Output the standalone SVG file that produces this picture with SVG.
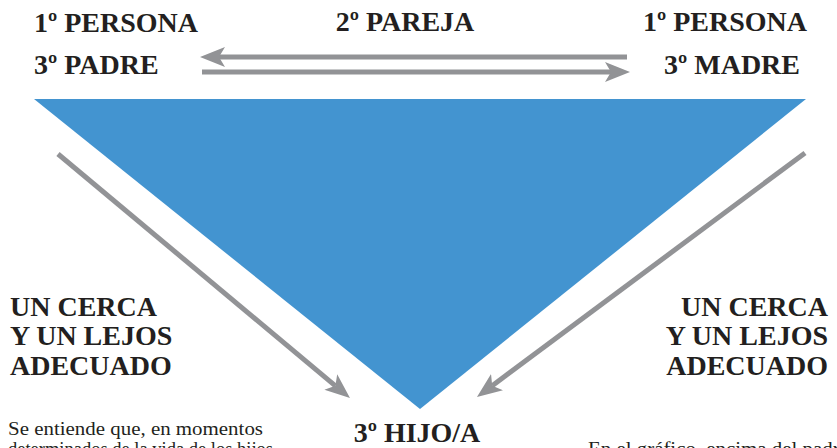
<svg xmlns="http://www.w3.org/2000/svg" width="837" height="448" viewBox="0 0 837 448">
<style>
.t{font-family:"Liberation Serif","Times New Roman",serif;font-weight:bold;font-size:28px;fill:#231F20}
.b{font-family:"Liberation Serif","Times New Roman",serif;font-size:18px;fill:#231F20}
.c{stroke:#929396;stroke-width:5;fill:none;marker-end:url(#ah)}
</style>
<defs>
<marker id="ah" markerUnits="userSpaceOnUse" markerWidth="26" markerHeight="24" viewBox="0 -12 26 24" refX="6" refY="0" orient="auto">
<path d="M25,0 L0,-10 L6,0 L0,10 Z" fill="#929396"/>
</marker>
</defs>
<g id="triangle">
<polygon points="34,99 806,99 420,409" fill="#4394D0"/>
</g>
<g id="connectors">
<line class="c" x1="627" y1="57" x2="219" y2="57"/>
<line class="c" x1="202" y1="72" x2="611" y2="72"/>
<line class="c" x1="58" y1="154" x2="335.4" y2="385.8"/>
<line class="c" x1="805" y1="153" x2="492.2" y2="385.7"/>
</g>
<g id="padre">
<text class="t" x="34" y="32">1º PERSONA</text>
<text class="t" x="34" y="74">3º PADRE</text>
</g>
<g id="pareja">
<text class="t" x="405" y="31" text-anchor="middle">2º PAREJA</text>
</g>
<g id="madre">
<text class="t" x="807" y="31" text-anchor="end">1º PERSONA</text>
<text class="t" x="800" y="74" text-anchor="end">3º MADRE</text>
</g>
<g id="cerca-left">
<text class="t" x="10" y="316">UN CERCA</text>
<text class="t" x="10" y="345">Y UN LEJOS</text>
<text class="t" x="10" y="375">ADECUADO</text>
</g>
<g id="cerca-right">
<text class="t" x="828" y="316" text-anchor="end">UN CERCA</text>
<text class="t" x="828" y="345" text-anchor="end">Y UN LEJOS</text>
<text class="t" x="828" y="375" text-anchor="end">ADECUADO</text>
</g>
<g id="hijo">
<text class="t" x="417" y="442" text-anchor="middle">3º HIJO/A</text>
</g>
<g id="notes">
<text class="b" x="8" y="435" textLength="255" lengthAdjust="spacingAndGlyphs">Se entiende que, en momentos</text>
<text class="b" x="8" y="455" textLength="265" lengthAdjust="spacingAndGlyphs">determinados de la vida de los hijos</text>
<text class="b" x="588" y="455" textLength="261" lengthAdjust="spacingAndGlyphs">En el gráfico, encima del padre</text>
</g>
</svg>
